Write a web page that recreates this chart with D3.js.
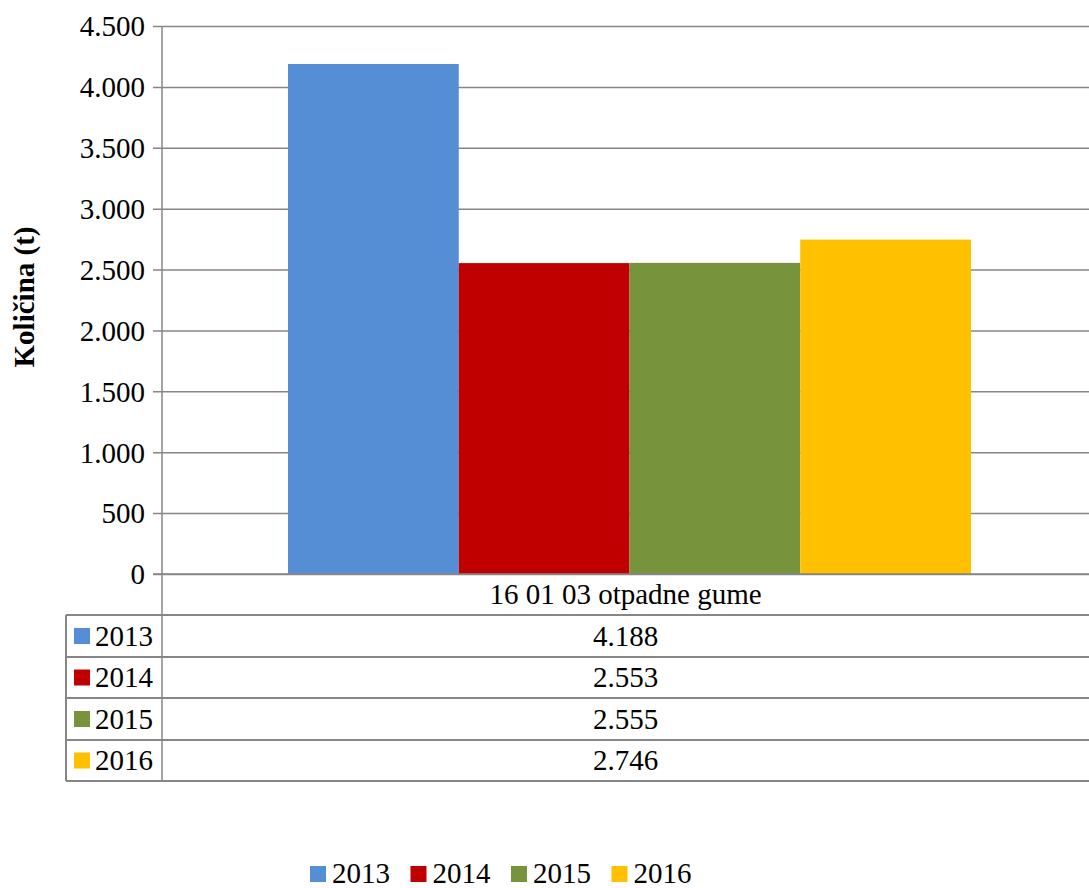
<!DOCTYPE html>
<html>
<head>
<meta charset="utf-8">
<script src="https://cdn.jsdelivr.net/npm/d3@7"></script>
<style>
  body { margin: 0; background: #fff; }
  svg { display: block; }
  svg text { font-family: "Liberation Serif", "Tinos", "Times New Roman", "DejaVu Serif", serif; }
</style>
</head>
<body>
<div id="graph"></div>
<script>
const categories = ["16 01 03 otpadne gume"];
const years = ["2013", "2014", "2015", "2016"];
const values = [4188, 2553, 2555, 2746];
const colors = ["#558ED5", "#C00000", "#77933C", "#FFC000"];
const yTitle = "Količina (t)";

const width = 1089;
const height = 888;
const marginLeft = 162;
const plotRight = 1097;
const marginTop = 26;
const plotBottom = 574;
const rowTops = [615, 657, 698, 740, 781];
const tableLeft = 66;
const gridColor = "#868686";
const fontSize = 29;

const locale = d3.formatLocale({ decimal: ",", thousands: ".", grouping: [3], currency: ["", ""] });
const fmt = locale.format(",d");

const x0 = d3.scaleBand()
             .domain(categories)
             .range([marginLeft, plotRight]);

const x1 = d3.scaleBand()
             .domain(years)
             .range([0, x0.bandwidth()])
             .paddingInner(0)
             .paddingOuter(0.738);

const yScale = d3.scaleLinear()
                 .domain([0, 4500])
                 .range([plotBottom, marginTop]);

const color = d3.scaleOrdinal(years, colors);

const svg = d3.create("svg")
              .attr("width", width)
              .attr("height", height)
              .attr("viewBox", `0 0 ${width} ${height}`);

svg.append("rect")
   .attr("width", width)
   .attr("height", height)
   .attr("fill", "#fff");

//y-axis with gridlines
const yAxis = d3.axisLeft(yScale)
                .ticks(9)
                .tickFormat(fmt)
                .tickSize(-(plotRight - marginLeft))
                .tickSizeOuter(0)
                .tickPadding(17);

const gy = svg.append("g")
              .attr("transform", `translate(${marginLeft}, 0)`)
              .call(yAxis)
              .attr("font-family", null)
              .attr("font-size", null);

gy.select(".domain").remove();
gy.selectAll(".tick line")
  .attr("x1", -9)
  .attr("stroke", gridColor)
  .attr("stroke-width", 1.5);
gy.selectAll(".tick text")
  .attr("font-size", fontSize)
  .attr("fill", "#000")
  .attr("dy", "0.34em");

//bars
const bars = years.map((yr, i) => ({ category: categories[0], year: yr, value: values[i] }));

svg.append("g")
   .selectAll("rect")
   .data(bars)
   .join("rect")
   .attr("x", d => x0(d.category) + x1(d.year))
   .attr("y", d => yScale(d.value))
   .attr("width", x1.bandwidth())
   .attr("height", d => yScale(0) - yScale(d.value))
   .attr("fill", d => color(d.year));

//vertical axis line down through the table
svg.append("line")
   .attr("x1", marginLeft).attr("x2", marginLeft)
   .attr("y1", marginTop).attr("y2", rowTops[rowTops.length - 1])
   .attr("stroke", gridColor)
   .attr("stroke-width", 1.5);

//baseline
svg.append("line")
   .attr("x1", marginLeft - 9).attr("x2", plotRight)
   .attr("y1", yScale(0)).attr("y2", yScale(0))
   .attr("stroke", gridColor)
   .attr("stroke-width", 1.5);

//data table
const table = svg.append("g");

table.selectAll("line.row")
     .data(rowTops)
     .join("line")
     .attr("class", "row")
     .attr("x1", tableLeft).attr("x2", plotRight)
     .attr("y1", d => d).attr("y2", d => d)
     .attr("stroke", gridColor)
     .attr("stroke-width", 2);

table.append("line")
     .attr("x1", tableLeft).attr("x2", tableLeft)
     .attr("y1", rowTops[0]).attr("y2", rowTops[rowTops.length - 1])
     .attr("stroke", gridColor)
     .attr("stroke-width", 2);

table.selectAll("text.cat")
     .data(categories)
     .join("text")
     .attr("class", "cat")
     .attr("x", d => x0(d) + x0.bandwidth() / 2 - 4)
     .attr("y", (plotBottom + rowTops[0]) / 2)
     .attr("dy", "0.34em")
     .attr("text-anchor", "middle")
     .attr("font-size", fontSize)
     .text(d => d);

const rows = table.selectAll("g.tr")
                  .data(bars)
                  .join("g")
                  .attr("class", "tr")
                  .attr("transform", (d, i) => `translate(0, ${(rowTops[i] + rowTops[i + 1]) / 2})`);

rows.append("rect")
    .attr("x", 74)
    .attr("y", -8)
    .attr("width", 16)
    .attr("height", 16)
    .attr("fill", d => color(d.year));

rows.append("text")
    .attr("x", 95)
    .attr("dy", "0.34em")
    .attr("font-size", fontSize)
    .text(d => d.year);

rows.append("text")
    .attr("x", d => x0(d.category) + x0.bandwidth() / 2 - 4)
    .attr("dy", "0.34em")
    .attr("text-anchor", "middle")
    .attr("font-size", fontSize)
    .text(d => fmt(d.value));

//y title
svg.append("text")
   .attr("transform", `translate(34, ${(marginTop + plotBottom) / 2 - 3}) rotate(-90)`)
   .attr("text-anchor", "middle")
   .attr("font-size", fontSize)
   .attr("font-weight", "bold")
   .text(yTitle);

//legend
const legend = svg.append("g")
                  .attr("transform", "translate(310, 873)");

const items = legend.selectAll("g")
                    .data(years)
                    .join("g")
                    .attr("transform", (d, i) => `translate(${i * 100.5}, 0)`);

items.append("rect")
     .attr("y", -7)
     .attr("width", 16)
     .attr("height", 16)
     .attr("fill", d => color(d));

items.append("text")
     .attr("x", 22)
     .attr("dy", "0.34em")
     .attr("font-size", fontSize)
     .text(d => d);

d3.select("#graph").append(() => svg.node());
</script>
</body>
</html>
